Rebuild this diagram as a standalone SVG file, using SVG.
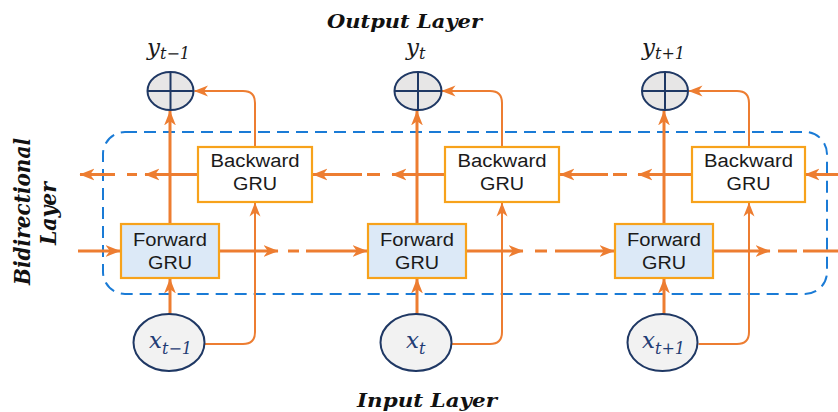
<svg xmlns="http://www.w3.org/2000/svg" width="838" height="412" viewBox="0 0 838 412">
<defs>
<marker id="ah" viewBox="0 0 14 12" refX="13.5" refY="6" markerWidth="15" markerHeight="13" markerUnits="userSpaceOnUse" orient="auto">
<path d="M0,0.5 L14,6 L0,11.5 L4,6 z" fill="#ed7d31"/>
</marker>
<marker id="ahs" viewBox="0 0 14 12" refX="13.5" refY="6" markerWidth="14" markerHeight="12" markerUnits="userSpaceOnUse" orient="auto">
<path d="M0,0.5 L14,6 L0,11.5 L4,6 z" fill="#ed7d31"/>
</marker>
</defs>
<style>
.c{fill:none;stroke:#ed7d31;stroke-width:3}
.t{fill:none;stroke:#ed7d31;stroke-width:2}
.a{marker-end:url(#ah)}
.as{marker-end:url(#ahs)}
.fw{fill:#dce9f7;stroke:#f7a21b;stroke-width:2.2}
.bw{fill:#ffffff;stroke:#f7a21b;stroke-width:2.2}
.bt{font-family:"Liberation Sans",Arial,sans-serif;font-size:18px;fill:#1a1a1a;text-anchor:middle}
.out{fill:#e7e6e6;stroke:#1f3864;stroke-width:2}
.cr{stroke:#1f3864;stroke-width:2;fill:none}
.inp{fill:#f2f2f2;stroke:#1f3864;stroke-width:2}
.ttl{font-family:"DejaVu Serif","Liberation Serif",serif;font-weight:bold;font-style:italic;font-size:19px;fill:#111}
.m{font-family:"DejaVu Serif","Liberation Serif",serif;font-style:italic;font-size:23px}
.s{font-size:16px}
.ym{fill:#1a1a1a}
.xm{fill:#1f3c74}
</style>

<rect id="bidirectional-frame" x="103" y="132" width="724" height="162" rx="22" fill="none" stroke="#1a7bd6" stroke-width="2" stroke-dasharray="12 7"/>

<g id="connectors">
<path class="c a" d="M170,224 V111"/>
<path class="c a" d="M417,224 V111"/>
<path class="c a" d="M664,224 V111"/>
<path class="c a" d="M170,314 V279"/>
<path class="c a" d="M417,314 V279"/>
<path class="c a" d="M664,314 V279"/>
<path class="t as" d="M204.5,344 H243 Q255,344 255,332 V203"/>
<path class="t as" d="M451.5,344 H490 Q502,344 502,332 V203"/>
<path class="t as" d="M698.5,344 H737 Q749,344 749,332 V203"/>
<path class="t as" d="M255,147 V103 Q255,91 243,91 H194.5"/>
<path class="t as" d="M502,147 V103 Q502,91 490,91 H442"/>
<path class="t as" d="M749,147 V103 Q749,91 737,91 H689"/>
<path class="c a" d="M78,251 H120"/>
<path class="c a" d="M219,251 H278"/>
<path class="c" d="M288,251 H299"/>
<path class="c a" d="M306,251 H367"/>
<path class="c a" d="M466,251 H523"/>
<path class="c" d="M535,251 H547"/>
<path class="c a" d="M555,251 H614"/>
<path class="c a" d="M713,251 H770"/>
<path class="c" d="M778,251 H797"/>
<path class="c" d="M803,251 H838"/>
<path class="c a" d="M838,174.5 H805"/>
<path class="c a" d="M692,174.5 H638"/>
<path class="c" d="M627,174.5 H613"/>
<path class="c a" d="M608,174.5 H560"/>
<path class="c a" d="M445,174.5 H392"/>
<path class="c" d="M380,174.5 H367"/>
<path class="c a" d="M362,174.5 H313"/>
<path class="c a" d="M198,174.5 H145"/>
<path class="c" d="M137,174.5 H127"/>
<path class="c a" d="M115,174.5 H80"/>
</g>

<g id="fwd-t-1"><rect class="fw" x="121" y="224" width="98" height="54"/><text class="bt" x="170" y="246" textLength="74" lengthAdjust="spacingAndGlyphs">Forward</text><text class="bt" x="170" y="269" textLength="44" lengthAdjust="spacingAndGlyphs">GRU</text></g>
<g id="fwd-t"><rect class="fw" x="368" y="224" width="98" height="54"/><text class="bt" x="417" y="246" textLength="74" lengthAdjust="spacingAndGlyphs">Forward</text><text class="bt" x="417" y="269" textLength="44" lengthAdjust="spacingAndGlyphs">GRU</text></g>
<g id="fwd-t+1"><rect class="fw" x="615" y="224" width="98" height="54"/><text class="bt" x="664" y="246" textLength="74" lengthAdjust="spacingAndGlyphs">Forward</text><text class="bt" x="664" y="269" textLength="44" lengthAdjust="spacingAndGlyphs">GRU</text></g>

<g id="bwd-t-1"><rect class="bw" x="198" y="147" width="114" height="55"/><text class="bt" x="255" y="167" textLength="89" lengthAdjust="spacingAndGlyphs">Backward</text><text class="bt" x="255" y="190" textLength="44" lengthAdjust="spacingAndGlyphs">GRU</text></g>
<g id="bwd-t"><rect class="bw" x="445" y="147" width="114" height="55"/><text class="bt" x="502" y="167" textLength="89" lengthAdjust="spacingAndGlyphs">Backward</text><text class="bt" x="502" y="190" textLength="44" lengthAdjust="spacingAndGlyphs">GRU</text></g>
<g id="bwd-t+1"><rect class="bw" x="692" y="147" width="113" height="55"/><text class="bt" x="748.5" y="167" textLength="89" lengthAdjust="spacingAndGlyphs">Backward</text><text class="bt" x="748.5" y="190" textLength="44" lengthAdjust="spacingAndGlyphs">GRU</text></g>

<g id="out-t-1"><ellipse class="out" cx="170.5" cy="91" rx="23" ry="19"/><path class="cr" d="M147.5,91 H193.5 M170.5,72 V110"/></g>
<g id="out-t"><ellipse class="out" cx="418" cy="91" rx="23.5" ry="19"/><path class="cr" d="M394.5,91 H441.5 M418,72 V110"/></g>
<g id="out-t+1"><ellipse class="out" cx="665" cy="91" rx="23" ry="19"/><path class="cr" d="M642,91 H688 M665,72 V110"/></g>

<g id="in-t-1"><ellipse class="inp" cx="169" cy="342.5" rx="35.5" ry="28.5"/><text class="m xm" x="149" y="348">x<tspan class="s" dy="6">t−1</tspan></text></g>
<g id="in-t"><ellipse class="inp" cx="416" cy="342.5" rx="35.5" ry="28.5"/><text class="m xm" x="406" y="348">x<tspan class="s" dy="6">t</tspan></text></g>
<g id="in-t+1"><ellipse class="inp" cx="662.5" cy="342.5" rx="35" ry="28.5"/><text class="m xm" x="642" y="348">x<tspan class="s" dy="6">t+1</tspan></text></g>

<g id="labels">
<text class="m ym" x="147" y="55">y<tspan class="s" dy="4">t−1</tspan></text>
<text class="m ym" x="406" y="55">y<tspan class="s" dy="4">t</tspan></text>
<text class="m ym" x="642" y="55">y<tspan class="s" dy="4">t+1</tspan></text>
<text class="ttl" x="404.5" y="28" text-anchor="middle" textLength="155" lengthAdjust="spacingAndGlyphs">Output Layer</text>
<text class="ttl" x="427" y="407" text-anchor="middle" textLength="140" lengthAdjust="spacingAndGlyphs">Input Layer</text>
<text class="ttl" transform="translate(30,211.5) scale(1.12,1) rotate(-90)" text-anchor="middle" style="font-size:20px" textLength="147" lengthAdjust="spacingAndGlyphs">Bidirectional</text>
<text class="ttl" transform="translate(56,213.5) scale(1.12,1) rotate(-90)" text-anchor="middle" style="font-size:20px" textLength="63" lengthAdjust="spacingAndGlyphs">Layer</text>
</g>
</svg>
